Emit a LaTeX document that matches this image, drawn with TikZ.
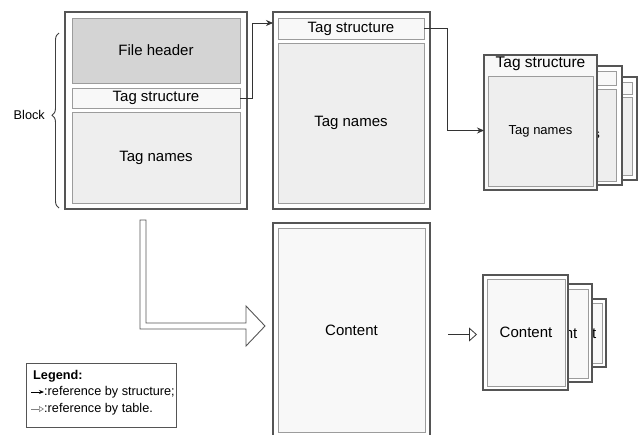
\documentclass[tikz,border=0pt]{standalone}
\usepackage{fontspec}
\setmainfont{Liberation Sans}
\usetikzlibrary{arrows.meta,decorations.pathreplacing}

\definecolor{edgegray}{HTML}{555555}
\definecolor{innergray}{HTML}{9C9C9C}
\definecolor{headfill}{HTML}{D4D4D4}
\definecolor{namefill}{HTML}{EEEEEE}
\definecolor{structfill}{HTML}{F8F8F8}

\tikzstyle{outer} = [rectangle, anchor=north west, draw=edgegray, line width=1.1pt, fill=white, inner sep=0pt, outer sep=0pt]
\tikzstyle{inner} = [rectangle, anchor=north west, draw=innergray, line width=0.9pt, inner sep=0pt, outer sep=0pt, font=\fontsize{15}{18}\selectfont]
\tikzstyle{small} = [font=\fontsize{12.7}{15}\selectfont]
\tikzstyle{structref} = [draw=black!80, line width=0.8pt, -{Stealth[length=7pt,width=6pt]}]
\tikzstyle{tableref} = [draw=black!80, line width=0.8pt, -{Triangle[open,length=8pt,width=14pt]}]

\begin{document}
\begin{tikzpicture}[x=1pt, y=-1pt]
	\useasboundingbox (0,0) rectangle (639,434);

	% first block: header, tag structure, tag names
	\node[outer, minimum width=182pt, minimum height=197pt] (blk1) at (65,12) {};
	\node[inner, fill=headfill, minimum width=168pt, minimum height=65pt] (header) at (72,18) {File header};
	\node[inner, fill=structfill, minimum width=168pt, minimum height=20pt] (tagstr1) at (72,88) {Tag structure};
	\node[inner, fill=namefill, minimum width=168pt, minimum height=91pt] (names1) at (72,112) {Tag names};
	\draw[draw=black!75, line width=0.9pt, decorate, decoration={brace, amplitude=7pt, aspect=0.53}] (59,208) -- (59,33);
	\node[small, anchor=east, inner sep=0pt] (blocklbl) at (45,115) {Block};

	% second block
	\node[outer, minimum width=157pt, minimum height=197pt] (blk2) at (273,12) {};
	\node[inner, fill=structfill, minimum width=146pt, minimum height=21pt] (tagstr2) at (278,18) {Tag structure};
	\node[inner, fill=namefill, minimum width=146pt, minimum height=160pt] (names2) at (278,43) {Tag names};

	% stacked tag blocks
	\node[outer, minimum width=92pt, minimum height=103pt] (cardc) at (545,77) {};
	\node[inner, fill=structfill, minimum width=82pt, minimum height=12pt] at (550,82) {};
	\node[inner, fill=namefill, minimum width=82pt, minimum height=78pt, font=\fontsize{13}{15}\selectfont] at (550,97) {Tag names};
	\node[outer, minimum width=107pt, minimum height=119pt] (cardb) at (515,66) {};
	\node[inner, fill=structfill, minimum width=96pt, minimum height=14pt] at (520,71) {};
	\node[inner, fill=namefill, minimum width=96pt, minimum height=92pt, font=\fontsize{13}{15}\selectfont] at (520,89) {Tag names};
	\node[outer, fill=structfill, minimum width=113pt, minimum height=135pt] (carda) at (484,55) {};
	\node[anchor=north, inner sep=0pt, font=\fontsize{15.5}{18}\selectfont] (tagstr3) at (540.5,57) {Tag structure};
	\node[inner, fill=namefill, minimum width=105pt, minimum height=110pt, font=\fontsize{13}{15}\selectfont] (names3) at (488,76) {Tag names};

	% content block
	\node[outer, minimum width=157pt, minimum height=214pt] (cblk) at (273,223) {};
	\node[inner, fill=structfill, minimum width=147pt, minimum height=204pt] (content) at (278,228) {Content};

	% stacked content blocks
	\node[outer, line width=1.5pt, minimum width=72pt, minimum height=68pt] (ccc) at (534,299) {};
	\node[inner, fill=structfill, minimum width=64pt, minimum height=60pt] at (538,303) {Content};
	\node[outer, minimum width=82pt, minimum height=98pt] (ccb) at (510,284) {};
	\node[inner, fill=structfill, minimum width=74pt, minimum height=89pt] at (514,289) {Content};
	\node[outer, minimum width=85pt, minimum height=115pt] (cca) at (483,275) {};
	\node[inner, fill=structfill, minimum width=78pt, minimum height=107pt] (content3) at (487,279) {Content};

	% references
	\draw[structref] (tagstr1.east) -- ++(12,0) |- ([yshift=-11pt]blk2.north west);
	\draw[structref] (tagstr2.east) -- ++(23,0) |- ([yshift=-8pt]carda.west);
	\draw[draw=edgegray, line width=0.9pt, fill=white] (140,220) -- (146,220) -- (146,323) -- (246,323) -- (246,306) -- (265,326) -- (246,346) -- (246,329) -- (140,329) -- cycle;
	\draw[tableref, shorten >=6pt] ([xshift=-35pt,yshift=-2pt]cca.west) -- ([yshift=-2pt]cca.west);

	% legend
	\node[rectangle, anchor=north west, draw=edgegray, line width=0.8pt, minimum width=150pt, minimum height=64pt] (legend) at (26,363) {};
	\node[anchor=west, inner sep=0pt, font=\bfseries\fontsize{12.7}{15}\selectfont] (legtitle) at (33,376) {Legend:};
	\node[small, anchor=west, inner sep=0pt] (legstruct) at (44,392) {:reference by structure;};
	\node[small, anchor=west, inner sep=0pt] (legtable) at (44,409) {:reference by table.};
	\draw[line width=0.8pt, -{Stealth[length=5pt,width=4pt]}] ([xshift=-13pt]legstruct.west) -- (legstruct.west);
	\draw[gray, line width=0.6pt, -{Triangle[open,length=5pt,width=6pt]}] ([xshift=-13pt]legtable.west) -- (legtable.west);
\end{tikzpicture}
\end{document}
